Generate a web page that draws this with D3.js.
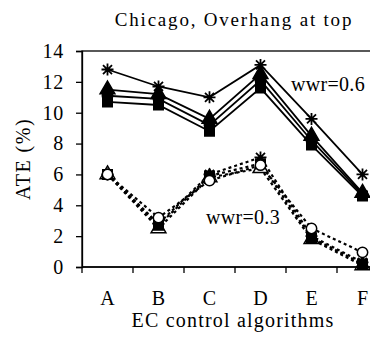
<!DOCTYPE html>
<html>
<head>
<meta charset="utf-8">
<script src="https://cdn.jsdelivr.net/npm/d3@7"></script>
<style>
  body { margin: 0; background: white; }
</style>
</head>
<body>
<div id="chart"></div>
<script>
// categories and tick values
const categories = ['A', 'B', 'C', 'D', 'E', 'F'];
const yTicks = [0, 2, 4, 6, 8, 10, 12, 14];

// wwr = 0.6 (solid lines)
const hiStar = [12.8, 11.7, 11.0, 13.1, 9.6, 6.0];
const hiTri = [11.5, 11.2, 9.6, 12.5, 8.5, 4.8];
const hiCirc = [11.1, 10.9, 9.2, 12.1, 8.2, 4.7];
const hiSq = [10.7, 10.5, 8.8, 11.6, 7.9, 4.6];

// wwr = 0.3 (dashed lines)
const loStar = [6.0, 2.8, 6.0, 7.1, 2.0, 0.3];
const loSq = [6.0, 2.7, 5.9, 6.7, 1.9, 0.2];
const loCirc = [6.0, 3.2, 5.6, 6.6, 2.5, 0.95];
const loTri = [6.0, 2.5, 5.8, 6.4, 1.8, 0.1];

const width = 370, height = 343;
const margin = {top: 51, left: 82, bottom: 76};
const plotW = 306;
const serif = '"Liberation Serif", "Times New Roman", "DejaVu Serif", serif';

const svg = d3.select('#chart').append('svg')
    .attr('width', width)
    .attr('height', height);

const xScale = d3.scaleBand()
    .domain(categories)
    .range([margin.left, margin.left + plotW]);

const yScale = d3.scaleLinear()
    .domain([0, 14])
    .range([height - margin.bottom, margin.top]);

const xc = (d, i) => xScale(categories[i]) + xScale.bandwidth() / 2;

// plot frame
svg.append('rect')
    .attr('x', margin.left)
    .attr('y', yScale(14))
    .attr('width', plotW)
    .attr('height', yScale(0) - yScale(14))
    .attr('fill', 'none')
    .attr('stroke', 'black')
    .attr('stroke-width', 1.3);

// y axis
const yAxis = svg.append('g')
    .attr('transform', 'translate(' + margin.left + ',0)')
    .call(d3.axisLeft(yScale).tickValues(yTicks).tickSize(6).tickPadding(12));
yAxis.select('.domain').attr('stroke-width', 1.3);
yAxis.selectAll('line').attr('stroke-width', 1.3);
yAxis.selectAll('text')
    .style('font-family', serif)
    .style('font-size', '20px')
    .style('letter-spacing', '0.8px');

// x axis, ticks at band boundaries
const xAxis = svg.append('g')
    .attr('transform', 'translate(0,' + yScale(0) + ')');
xAxis.append('line')
    .attr('x1', margin.left).attr('x2', margin.left + plotW)
    .attr('stroke', 'black').attr('stroke-width', 1.3);
xAxis.selectAll('.tk')
    .data(categories)
    .enter().append('line')
    .attr('class', 'tk')
    .attr('x1', d => xScale(d)).attr('x2', d => xScale(d))
    .attr('y1', 0).attr('y2', 6)
    .attr('stroke', 'black').attr('stroke-width', 1.3);
xAxis.selectAll('.lbl')
    .data(categories)
    .enter().append('text')
    .attr('class', 'lbl')
    .attr('x', d => xScale(d) + xScale.bandwidth() / 2)
    .attr('y', 38)
    .attr('text-anchor', 'middle')
    .style('font-family', serif)
    .style('font-size', '20px')
    .text(d => d);

// titles
function label(x, y, txt, size, spacing) {
  return svg.append('text')
      .attr('x', x).attr('y', y)
      .attr('text-anchor', 'middle')
      .style('font-family', serif)
      .style('font-size', size + 'px')
      .style('letter-spacing', spacing + 'px')
      .text(txt);
}

label(234, 26, 'Chicago, Overhang at top', 19, 1.8);
label(233, 327, 'EC control algorithms', 20, 1.2);
label(0, 0, 'ATE (%)', 20, 1.5)
    .attr('transform', 'translate(30,' + yScale(7) + ') rotate(-90)');
label(328, yScale(11.4), 'wwr=0.6', 20, 0.3);
label(243, yScale(2.8), 'wwr=0.3', 20, 0.3);

// series
const line = d3.line().x(xc).y(d => yScale(d));

const asterisk = 'M-6,0L6,0M-4.5,-4.5L4.5,4.5M-4.5,4.5L4.5,-4.5M0,-6L0,6';
const sym = {
  star: () => asterisk,
  tri: d3.symbol(d3.symbolTriangle, 95),
  circ: d3.symbol(d3.symbolCircle, 85),
  sq: d3.symbol(d3.symbolSquare, 90)
};

const series = [
  {values: loTri, marker: 'tri', fill: 'white', dash: '3,3', w: 2.2},
  {values: loSq, marker: 'sq', fill: 'black', dash: '3,3', w: 2.2},
  {values: loStar, marker: 'star', fill: 'none', dash: '3,3', w: 2.2},
  {values: loCirc, marker: 'circ', fill: 'white', dash: '3,3', w: 2.2},
  {values: hiSq, marker: 'sq', fill: 'black', dash: null, w: 1.8},
  {values: hiCirc, marker: 'circ', fill: 'black', dash: null, w: 1.8},
  {values: hiTri, marker: 'tri', fill: 'black', dash: null, w: 1.8},
  {values: hiStar, marker: 'star', fill: 'none', dash: null, w: 1.8}
];

series.forEach(s => {
  svg.append('path')
      .datum(s.values)
      .attr('fill', 'none')
      .attr('stroke', 'black')
      .attr('stroke-width', s.w)
      .attr('stroke-dasharray', s.dash)
      .attr('d', line);
});

series.forEach(s => {
  svg.selectAll(null)
      .data(s.values)
      .enter().append('path')
      .attr('transform', (d, i) => 'translate(' + xc(d, i) + ',' + yScale(d) + ')')
      .attr('d', sym[s.marker])
      .attr('fill', s.fill)
      .attr('stroke', 'black')
      .attr('stroke-width', s.marker === 'star' ? 1.8 : 1.5);
});
</script>
</body>
</html>
